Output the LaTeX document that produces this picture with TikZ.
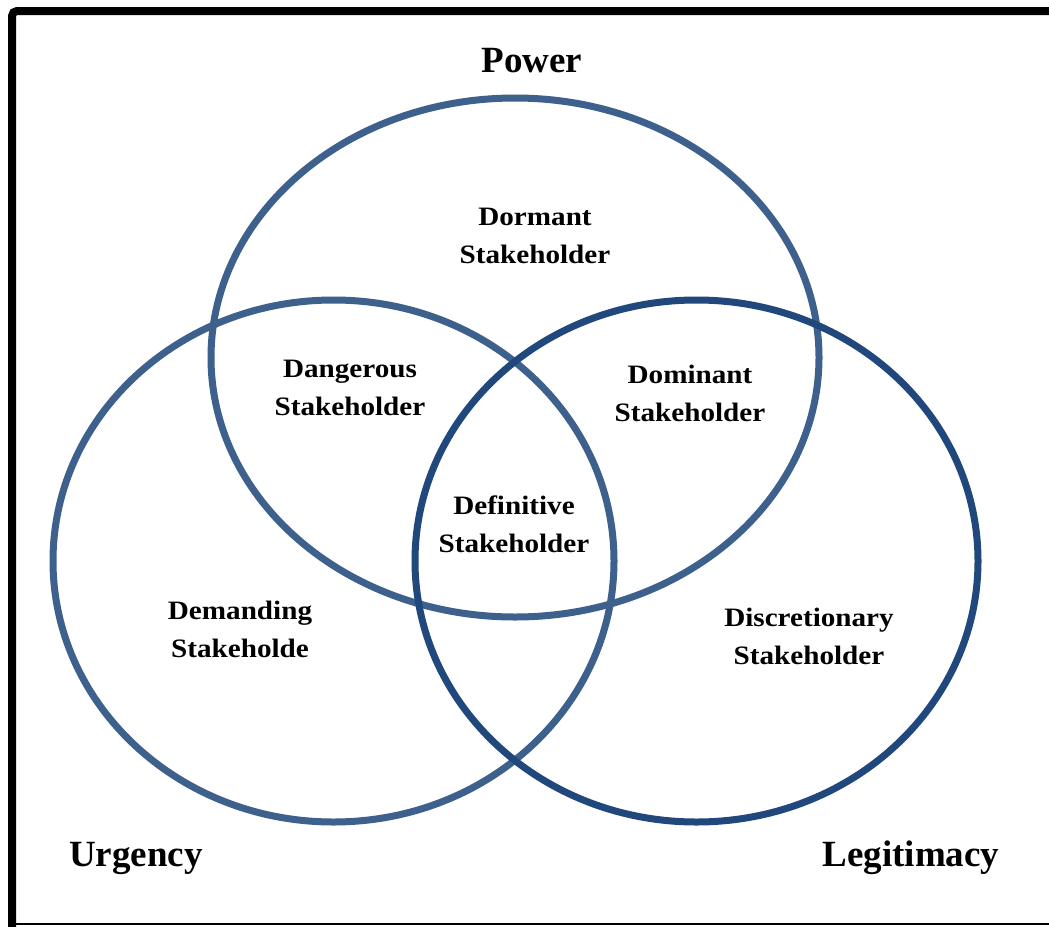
\documentclass[tikz,border=0pt]{standalone}
\usepackage{fontspec}
\setmainfont{Liberation Serif}
\definecolor{ringA}{RGB}{61,96,141}
\definecolor{ringB}{RGB}{33,72,124}
\newcommand{\wide}[1]{\scalebox{1.13}[1.03]{#1}}
\tikzset{
  ring/.style={line width=7pt},
  title/.style={font=\fontsize{37}{40}\selectfont\bfseries, inner sep=0pt, anchor=base},
  lbl/.style={font=\fontsize{25.8}{38}\selectfont\bfseries, inner sep=0pt, align=center, anchor=base},
}
\begin{document}
\begin{tikzpicture}[x=1pt,y=-1pt]
\useasboundingbox (0,0) rectangle (1049,926);
\fill[white] (0,0) rectangle (1049,926);
% frame
\draw[line width=8pt, rounded corners=5pt] (12,930) -- (12,11) -- (1060,11);
\draw[line width=1.5pt] (12,924) -- (1049,924);
% circles
\draw[ring, ringA] (515,357.5) ellipse [x radius=304, y radius=259.5];
\draw[ring, ringA] (333.5,561) ellipse [x radius=280.5, y radius=261];
\draw[ring, ringB] (696.5,561) ellipse [x radius=281.5, y radius=261];
% titles
\node[title] (power) at (532,72) {Power};
\node[title] (urgency) at (136,866) {Urgency};
\node[title] (legit) at (911,866) {Legitimacy};
% labels (anchor = baseline of the second line)
\node[lbl] (dormant) at (535,263) {\wide{Dormant}\\\wide{Stakeholder}};
\node[lbl] (dangerous) at (350,415) {\wide{Dangerous}\\\wide{Stakeholder}};
\node[lbl] (dominant) at (690,421) {\wide{Dominant}\\\wide{Stakeholder}};
\node[lbl] (definitive) at (514,552) {\wide{Definitive}\\\wide{Stakeholder}};
\node[lbl] (demanding) at (240,657) {\wide{Demanding}\\\wide{Stakeholde}};
\node[lbl] (discretionary) at (809,664) {\wide{Discretionary}\\\wide{Stakeholder}};
\end{tikzpicture}
\end{document}
